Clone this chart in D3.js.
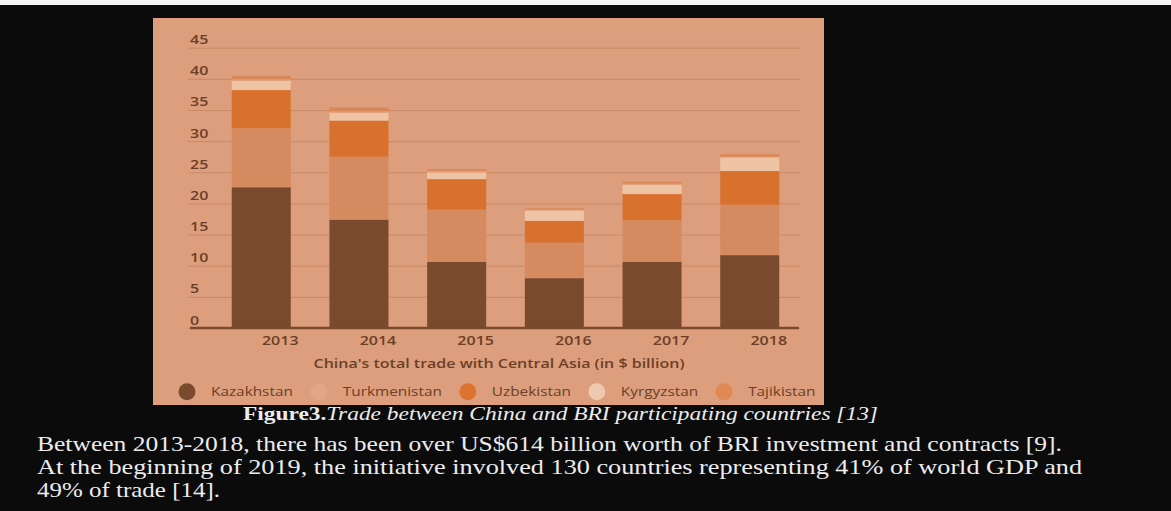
<!DOCTYPE html>
<html><head><meta charset="utf-8">
<script src="https://cdn.jsdelivr.net/npm/d3@7"></script>
<style>html,body{margin:0;padding:0;background:#0b0b0b;overflow:hidden}</style>
</head><body>
<svg id="c" width="1171" height="511"></svg>
<script>
// ---- data ----
const years = ["2013","2014","2015","2016","2017","2018"];
const seriesNames = ["Kazakhstan","Turkmenistan","Uzbekistan","Kyrgyzstan","Tajikistan"];
const kazakhstan   = [22.6, 17.4, 10.6, 8.0, 10.6, 11.7];
const turkmenistan = [9.5, 10.1, 8.4, 5.7, 6.7, 8.1];
const uzbekistan   = [6.1, 5.8, 4.9, 3.5, 4.2, 5.4];
const kyrgyzstan   = [1.5, 1.3, 1.1, 1.6, 1.5, 2.1];
const tajikistan   = [0.8, 0.8, 0.5, 0.4, 0.5, 0.6];
const yTicks = [0, 5, 10, 15, 20, 25, 30, 35, 40, 45];
const xTitle = "China's total trade with Central Asia (in $ billion)";
const captionBold = "Figure3.";
const captionItalic = "Trade between China and BRI participating countries  [13]";
const paragraphLines = [
  "Between 2013-2018, there has been over US$614 billion worth of BRI investment and contracts [9].",
  "At the beginning of 2019, the initiative involved 130 countries representing 41% of world GDP and",
  "49% of trade [14]."
];

// ---- styles ----
const barColors = ["#7a4a2e", "#d58a5f", "#d9712e", "#efc4a5", "#d98757"];
const legendColors = ["#7a4a2e", "#e2a586", "#dc7430", "#efc9ae", "#e08955"];
const panelBg = "#dc9e7c";
const ink = "#6b3f27";
const SX = 1.28;

const rows = years.map((y, i) => ({
  year: y,
  Kazakhstan: kazakhstan[i], Turkmenistan: turkmenistan[i], Uzbekistan: uzbekistan[i],
  Kyrgyzstan: kyrgyzstan[i], Tajikistan: tajikistan[i]
}));

const svg = d3.select("#c");
svg.append("rect").attr("x",0).attr("y",0).attr("width",1171).attr("height",511).attr("fill","#0b0b0b");
svg.append("rect").attr("x",0).attr("y",0).attr("width",1171).attr("height",5).attr("fill","#f4f4f4");
svg.append("rect").attr("x",153).attr("y",18).attr("width",671).attr("height",387).attr("fill",panelBg);

const x = d3.scaleBand().domain(years).range([212.2, 798.8]).paddingInner(0.396).paddingOuter(0.2);
const y = d3.scaleLinear().domain([0, 45]).range([328, 47.7]);

const font = "'Open Sans', 'Noto Sans', sans-serif";

// gridlines + y labels
const gy = svg.append("g").attr("transform", "translate(188,0)")
  .call(d3.axisLeft(y).tickValues(yTicks).tickSize(-(800 - 188)).tickFormat(d3.format("d")));
gy.select(".domain").remove();
gy.selectAll(".tick line").attr("stroke", "#c98a67").attr("stroke-width", 1);
gy.selectAll(".tick text")
  .attr("x", null).attr("dy", null)
  .attr("text-anchor", "start")
  .attr("transform", `translate(2,-4) scale(${SX},1)`)
  .attr("fill", ink).attr("font-family", font).attr("font-weight", 600).attr("font-size", 12.5);

// stacked bars
const stack = d3.stack().keys(seriesNames)(rows);
const color = d3.scaleOrdinal().domain(seriesNames).range(barColors);
svg.append("g").selectAll("g").data(stack).join("g")
  .attr("fill", d => color(d.key))
  .selectAll("rect").data(d => d).join("rect")
  .attr("x", d => x(d.data.year))
  .attr("width", x.bandwidth())
  .attr("y", d => y(d[1]))
  .attr("height", d => y(d[0]) - y(d[1]));

// thin separator between Kyrgyzstan and Tajikistan segments
const tajLayer = stack[stack.length - 1];
svg.append("g").selectAll("line").data(tajLayer).join("line")
  .attr("x1", d => x(d.data.year)).attr("x2", d => x(d.data.year) + x.bandwidth())
  .attr("y1", d => y(d[0]) - 0.5).attr("y2", d => y(d[0]) - 0.5)
  .attr("stroke", "#e6ab8a").attr("stroke-width", 1.2);

// baseline + year labels
const gx = svg.append("g").attr("transform", "translate(0,328)")
  .call(d3.axisBottom(x).tickSize(0));
gx.select(".domain").remove();
gx.selectAll(".tick text")
  .attr("y", null).attr("dy", null)
  .attr("transform", `translate(19,17) scale(${SX},1)`)
  .attr("fill", ink).attr("font-family", font).attr("font-weight", 600).attr("font-size", 12.5);
svg.append("line").attr("x1", 190).attr("x2", 799).attr("y1", 328).attr("y2", 328)
  .attr("stroke", "#7a4a2e").attr("stroke-width", 2.5);

// x title
svg.append("text").attr("transform", `translate(499,367.5) scale(${SX},1)`)
  .attr("text-anchor", "middle").attr("fill", ink).attr("font-family", font)
  .attr("font-weight", 600).attr("font-size", 12.5).text(xTitle);

// legend
let lx = 187;
seriesNames.forEach((name, i) => {
  svg.append("circle").attr("cx", lx).attr("cy", 391.7).attr("r", 8.5).attr("fill", legendColors[i]);
  const t = svg.append("text").attr("transform", `translate(${lx + 24},396) scale(${SX},1)`)
    .attr("fill", ink).attr("font-family", font).attr("font-weight", 500).attr("font-size", 12)
    .text(name);
  const w = t.node().getComputedTextLength() * SX;
  lx = lx + 24 + w + 26;
});

// caption
const cap = svg.append("text").attr("x", 243).attr("y", 419.5)
  .attr("fill", "#ececec").attr("font-family", "'Liberation Serif', 'DejaVu Serif', serif")
  .attr("font-size", 18).attr("textLength", 635).attr("lengthAdjust", "spacingAndGlyphs");
cap.append("tspan").attr("font-weight", "bold").text(captionBold);
cap.append("tspan").attr("font-style", "italic").text(captionItalic);

// paragraph
const lineEnds = [1062, 1082, 220];
paragraphLines.forEach((line, i) => {
  svg.append("text").attr("x", 37).attr("y", 451 + i * 23)
    .attr("fill", "#ececec").attr("font-family", "'Liberation Serif', 'DejaVu Serif', serif")
    .attr("font-size", 21).attr("textLength", lineEnds[i] - 37).attr("lengthAdjust", "spacingAndGlyphs")
    .text(line);
});
</script>
</body></html>
